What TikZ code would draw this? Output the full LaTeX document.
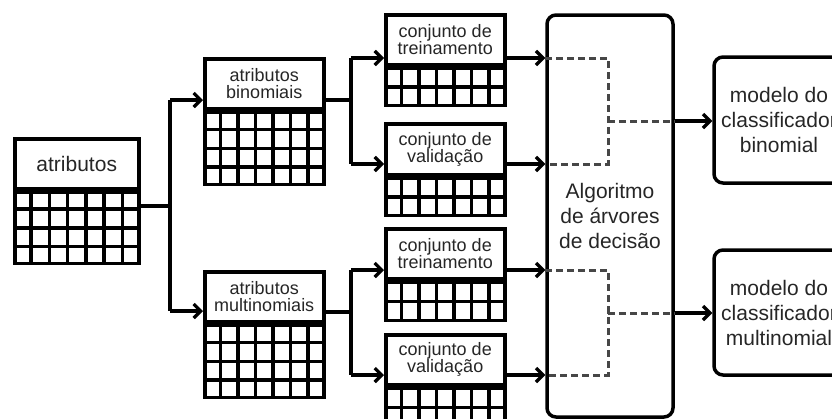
\documentclass[tikz,border=0pt]{standalone}
\usepackage{fontspec}
\setmainfont{Liberation Sans}
\usetikzlibrary{arrows.meta,calc}

\newcommand\tgrid[2]{%
  \foreach \i in {1,...,6}{%
    \draw[gline] ($(#1.north west)!\i/7!(#1.north east)$) -- ($(#1.south west)!\i/7!(#1.south east)$);}%
  \pgfmathtruncatemacro\rrows{#2-1}%
  \foreach \j in {1,...,\rrows}{%
    \draw[gline] ($(#1.north west)!\j/#2!(#1.south west)$) -- ($(#1.north east)!\j/#2!(#1.south east)$);}%
}

\tikzset{
  hdr/.style={draw, line width=3.5pt, fill=white, align=center, inner sep=0pt,
    anchor=north west, minimum width=119pt, minimum height=50pt,
    font=\fontsize{18}{17}\selectfont, text=black!85},
  grd/.style={draw, line width=3.5pt, fill=white, inner sep=0pt, anchor=north,
    minimum width=119pt},
  gline/.style={line width=3.5pt},
  conn/.style={line width=3.2pt},
  arr/.style={line width=3.2pt, -{Straight Barb[length=7pt,width=14pt]}},
  dsh/.style={line width=3pt, dash pattern=on 7pt off 4pt, color=black!72},
  bigbox/.style={draw, line width=3.5pt, rounded corners=9pt, align=center,
    inner sep=0pt, font=\fontsize{21}{25}\selectfont, text=black!85},
}

\begin{document}
\begin{tikzpicture}[x=1pt, y=-1pt]
\useasboundingbox (0,0) rectangle (832,418);

% input table
\node[hdr, minimum width=124pt, font=\fontsize{21}{25}\selectfont] (atr) at (13,137) {atributos};
\node[grd, minimum width=124pt, minimum height=71pt] (atrg) at (atr.south) {};
\tgrid{atrg}{4}

% binomial / multinomial attribute tables
\node[hdr] (bin) at (203,57) {atributos\\binomiais};
\node[grd, minimum height=72pt] (bing) at (bin.south) {};
\tgrid{bing}{4}
\node[hdr] (mul) at (203,270) {atributos\\multinomiais};
\node[grd, minimum height=72pt] (mulg) at (mul.south) {};
\tgrid{mulg}{4}

% training / validation sets
\node[hdr] (tr1) at (384,13) {conjunto de\\treinamento};
\node[grd, minimum height=37pt] (tr1g) at (tr1.south) {};
\tgrid{tr1g}{2}
\node[hdr, minimum height=51pt] (va1) at (384,122) {conjunto de\\validação};
\node[grd, minimum height=37pt] (va1g) at (va1.south) {};
\tgrid{va1g}{2}
\node[hdr] (tr2) at (384,227) {conjunto de\\treinamento};
\node[grd, minimum height=38pt] (tr2g) at (tr2.south) {};
\tgrid{tr2g}{2}
\node[hdr] (va2) at (384,333) {conjunto de\\validação};
\node[grd, minimum height=38pt] (va2g) at (va2.south) {};
\tgrid{va2g}{2}

% algorithm and models
\node[bigbox, minimum width=126pt, minimum height=402pt] (alg) at (610,216)
  {Algoritmo\\de árvores\\de decisão};
\node[bigbox, minimum width=130pt, minimum height=126pt] (mb) at (779,120)
  {modelo do\\classificador\\binomial};
\node[bigbox, minimum width=130pt, minimum height=125pt] (mm) at (779,312.5)
  {modelo do\\classificador\\multinomial};

% first fork
\coordinate (f1) at (170,206);
\coordinate (f1a) at (170,100);
\coordinate (f1b) at (170,311);
\draw[conn] (atrg.east |- f1) -- (f1);
\draw[conn] (f1a) -- (f1b);
\draw[arr] (f1a) -- (f1a -| bin.west);
\draw[arr] (f1b) -- (f1b -| mul.west);

% binomial fork
\coordinate (f2) at (351,100);
\coordinate (f2a) at (351,58);
\coordinate (f2b) at (351,164);
\draw[conn] (bin.east |- f2) -- (f2);
\draw[conn] (f2a) -- (f2b);
\draw[arr] (f2a) -- (f2a -| tr1.west);
\draw[arr] (f2b) -- (f2b -| va1.west);

% multinomial fork
\coordinate (f3) at (351,312);
\coordinate (f3a) at (351,270);
\coordinate (f3b) at (351,375);
\draw[conn] (mul.east |- f3) -- (f3);
\draw[conn] (f3a) -- (f3b);
\draw[arr] (f3a) -- (f3a -| tr2.west);
\draw[arr] (f3b) -- (f3b -| va2.west);

% into the algorithm
\draw[arr] (tr1.east |- f2a) -- (alg.west |- f2a);
\draw[arr] (va1.east |- f2b) -- (alg.west |- f2b);
\draw[arr] (tr2.east |- f3a) -- (alg.west |- f3a);
\draw[arr] (va2.east |- f3b) -- (alg.west |- f3b);

% dashed merges inside the algorithm
\coordinate (d1) at (608,121);
\coordinate (d2) at (608,313);
\draw[dsh] (alg.west |- f2a) -| (d1) |- (alg.west |- f2b);
\draw[dsh] (d1) -- (alg.east |- d1);
\draw[dsh] (alg.west |- f3a) -| (d2) |- (alg.west |- f3b);
\draw[dsh] (d2) -- (alg.east |- d2);

% outputs
\draw[arr] (alg.east |- d1) -- (mb.west |- d1);
\draw[arr] (alg.east |- d2) -- (mm.west |- d2);
\end{tikzpicture}
\end{document}
